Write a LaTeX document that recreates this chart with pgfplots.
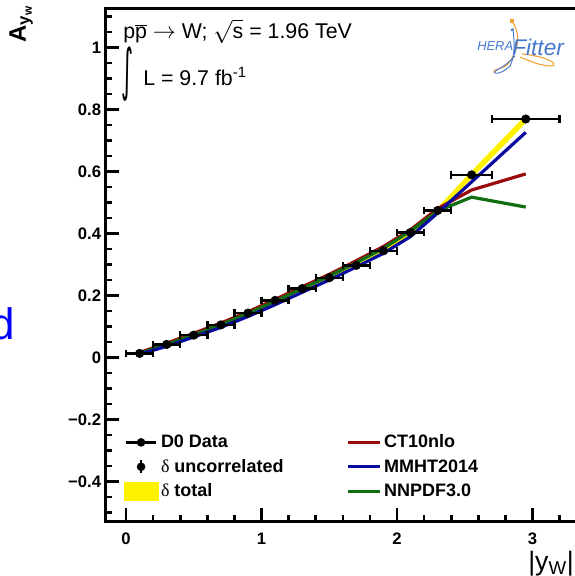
\documentclass[border=0pt]{standalone}
\usepackage{fontspec}
\setmainfont{Liberation Sans}
\newfontfamily\serifg{Liberation Serif}
\newfontfamily\dejavu{DejaVu Sans}
\usepackage{graphicx}
\usepackage{pgfplots}
\pgfplotsset{compat=1.18}
\definecolor{ctred}{RGB}{155,10,10}
\definecolor{mmblue}{RGB}{10,10,160}
\definecolor{nngreen}{RGB}{15,110,15}
\definecolor{herablue}{RGB}{70,120,205}
\definecolor{heraorange}{RGB}{240,160,50}
\pgfplotsset{
  d0leg/.style={legend image code/.code={\draw[black,line width=1.8pt] (0pt,0pt) -- (22.5pt,0pt); \fill[black] (11.25pt,0pt) circle (3pt);}},
  uncleg/.style={legend image code/.code={\draw[black,line width=1.8pt] (11.25pt,-5pt) -- (11.25pt,5pt); \fill[black] (11.25pt,0pt) circle (3pt);}},
  totleg/.style={legend image code/.code={\fill[yellow] (-1.5pt,-6.8pt) rectangle (24pt,6.8pt);}},
  ctleg/.style={legend image code/.code={\draw[ctred,line width=2.4pt] (0pt,0pt) -- (24pt,0pt);}},
  mmleg/.style={legend image code/.code={\draw[mmblue,line width=2.4pt] (0pt,0pt) -- (24pt,0pt);}},
  nnleg/.style={legend image code/.code={\draw[nngreen,line width=2.4pt] (0pt,0pt) -- (24pt,0pt);}},
}
\begin{document}
\begin{tikzpicture}[x=0.75pt,y=0.75pt]
\path[use as bounding box] (0,0) rectangle (575,576);
\begin{axis}[
  at={(79.3pt,40.7pt)}, anchor=south west, scale only axis,
  width=370.9pt, height=384.8pt,
  xmin=-0.15, xmax=3.5, ymin=-0.53, ymax=1.125,
  axis line style={line width=2.2pt},
  xtick={0,1,2,3}, xticklabels={0,1,2,3},
  minor xtick={0.2,0.4,0.6,0.8,1.2,1.4,1.6,1.8,2.2,2.4,2.6,2.8,3.2,3.4},
  ytick={-0.4,-0.2,0,0.2,0.4,0.6,0.8,1},
  yticklabels={−0.4,−0.2,0,0.2,0.4,0.6,0.8,1},
  minor ytick={-0.5,-0.45,-0.35,-0.3,-0.25,-0.15,-0.1,-0.05,0.05,0.1,0.15,0.25,0.3,0.35,0.45,0.5,0.55,0.65,0.7,0.75,0.85,0.9,0.95,1.05,1.1},
  xtick pos=bottom, ytick pos=left, tick align=inside,
  major tick length=10pt, minor tick length=5pt,
  tick style={black, line width=2pt},
  tick label style={font=\bfseries\fontsize{12.5}{14}\selectfont},
  xticklabel style={yshift=-5pt},
  legend columns=3, transpose legend, legend cell align=left,
  legend style={at={(0.036,0.175)}, anchor=north west, draw=none, fill=none,
    inner sep=0pt, row sep=3pt,
    font=\bfseries\fontsize{13.5}{15}\selectfont,
    /tikz/column 2/.style={column sep=45pt}},
]
% delta total band
\addplot[fill=yellow, draw=yellow, line width=1pt, forget plot] coordinates {
 (0.1,0.016) (0.3,0.045) (0.5,0.075) (0.7,0.108) (0.9,0.146) (1.1,0.188) (1.3,0.226)
 (1.5,0.261) (1.7,0.302) (1.9,0.349) (2.1,0.409) (2.3,0.481) (2.55,0.598) (2.95,0.779)
 (2.95,0.759) (2.55,0.580) (2.3,0.467) (2.1,0.397) (1.9,0.339) (1.7,0.292) (1.5,0.253)
 (1.3,0.218) (1.1,0.180) (0.9,0.140) (0.7,0.102) (0.5,0.069) (0.3,0.039) (0.1,0.010)
} -- cycle;
% theory curves
\addplot[ctred, line width=2.4pt, forget plot] coordinates {
 (0.1,0.016) (0.3,0.046) (0.5,0.078) (0.7,0.111) (0.9,0.147) (1.1,0.187) (1.3,0.228)
 (1.5,0.268) (1.7,0.312) (1.9,0.358) (2.1,0.412) (2.3,0.480) (2.55,0.540) (2.95,0.592)};
\addplot[nngreen, line width=2.4pt, forget plot] coordinates {
 (0.1,0.013) (0.3,0.042) (0.5,0.073) (0.7,0.106) (0.9,0.142) (1.1,0.181) (1.3,0.222)
 (1.5,0.263) (1.7,0.306) (1.9,0.352) (2.1,0.408) (2.3,0.472) (2.55,0.517) (2.95,0.485)};
\addplot[mmblue, line width=2.4pt, forget plot] coordinates {
 (0.1,0.010) (0.3,0.036) (0.5,0.066) (0.7,0.097) (0.9,0.132) (1.1,0.170) (1.3,0.210)
 (1.5,0.250) (1.7,0.292) (1.9,0.336) (2.1,0.390) (2.3,0.466) (2.55,0.566) (2.95,0.726)};
% D0 data
\addplot[black, only marks, mark=*, mark size=3.2pt, forget plot,
  error bars/.cd, x dir=both, x explicit, error mark=|,
  error bar style={line width=1.8pt, black},
  error mark options={black, mark size=2.8pt, line width=1.8pt}] coordinates {
 (0.1,0.013) +- (0.1,0) (0.3,0.042) +- (0.1,0) (0.5,0.072) +- (0.1,0)
 (0.7,0.105) +- (0.1,0) (0.9,0.143) +- (0.1,0) (1.1,0.184) +- (0.1,0)
 (1.3,0.222) +- (0.1,0) (1.5,0.257) +- (0.1,0) (1.7,0.297) +- (0.1,0)
 (1.9,0.344) +- (0.1,0) (2.1,0.403) +- (0.1,0) (2.3,0.474) +- (0.1,0)
 (2.55,0.589) +- (0.15,0) (2.95,0.769) +- (0.25,0)};
% legend
\addlegendimage{d0leg}
\addlegendentry{D0 Data}
\addlegendimage{uncleg}
\addlegendentry{{\serifg\mdseries δ} uncorrelated}
\addlegendimage{totleg}
\addlegendentry{{\serifg\mdseries δ} total}
\addlegendimage{ctleg}
\addlegendentry{CT10nlo}
\addlegendimage{mmleg}
\addlegendentry{MMHT2014}
\addlegendimage{nnleg}
\addlegendentry{NNPDF3.0}
\end{axis}
% annotations
\node[anchor=base west, inner sep=0, font=\fontsize{16}{18}\selectfont] at (123,537.7)
  {p$\overline{\mbox{p}}$ $\rightarrow$ W; $\sqrt{\mbox{s}}$ = 1.96 TeV};
\node[anchor=south west, inner sep=0] at (121,474) {\resizebox*{9pt}{41pt}{\dejavu ∫}};
\node[anchor=base west, inner sep=0, font=\fontsize{16}{18}\selectfont] at (143,490)
  {L = 9.7 fb\textsuperscript{-1}};
% HERAFitter logo
\draw[heraorange, line width=0.8pt] (512,555) .. controls (522,540) and (518,525) .. (508,512) .. controls (500,505) and (492,508) .. (494,503);
\draw[heraorange, line width=0.8pt] (522,522) .. controls (545,520) and (560,512) .. (552,510) .. controls (540,510) and (530,515) .. (520,519);
\draw[herablue, line width=0.7pt] (513,548) .. controls (514,535) and (516,522) .. (510,510) .. controls (500,500) and (490,502) .. (497,506) .. controls (505,510) and (510,515) .. (515,520);
\fill[heraorange] (510,553) rectangle (514,557);
\fill[herablue] (512,546) circle (1.5);
\node[anchor=base west, inner sep=0, text=herablue, font=\itshape\fontsize{9.7}{11}\selectfont] at (477,525.3) {HERA};
\node[anchor=base west, inner sep=0, text=herablue, font=\itshape\fontsize{17}{19}\selectfont] at (512,520.5) {Fitter};
% axis titles
\node[rotate=90, anchor=base east, inner sep=0, font=\bfseries\fontsize{18}{20}\selectfont] at (26,571) {A\textsubscript{y\textsubscript{w}}};
\node[anchor=north east, inner sep=0, font=\fontsize{20}{22}\selectfont] at (574,25.5) {|y\textsubscript{W}|};
% stray text at left edge
\node[anchor=base east, inner sep=0, text=blue, font=\fontsize{33}{36}\selectfont] at (15,236) {d};
\end{tikzpicture}
\end{document}
